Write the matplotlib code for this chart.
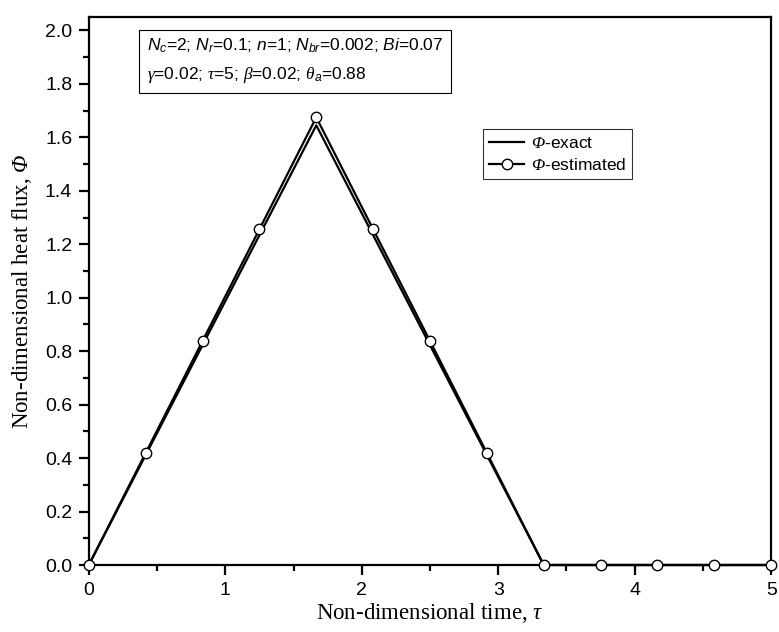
import matplotlib
matplotlib.use("Agg")
import matplotlib.pyplot as plt
from matplotlib.ticker import MultipleLocator, FormatStrFormatter

plt.rcParams['font.family'] = ['Liberation Sans', 'DejaVu Sans']
plt.rcParams['mathtext.fontset'] = 'custom'
plt.rcParams['mathtext.rm'] = 'Liberation Sans'
plt.rcParams['mathtext.it'] = 'Liberation Sans:italic'
plt.rcParams['mathtext.sf'] = 'Liberation Serif:italic'

# exact heat flux: triangular pulse
tau_exact = [0.0, 5/3, 10/3, 5.0]
phi_exact = [0.0, 1.645, 0.0, 0.0]

# estimated heat flux at the sampled times
tau_est = [0.0, 0.4167, 0.8333, 1.25, 1.6667, 2.0833, 2.5, 2.9167,
           3.3333, 3.75, 4.1667, 4.5833, 5.0]
phi_est = [0.0, 0.419, 0.838, 1.256, 1.675, 1.256, 0.838, 0.419,
           0.0, 0.0, 0.0, 0.0, 0.0]

fig = plt.figure(figsize=(7.79, 6.32), dpi=100)
ax = fig.add_axes([0.114, 0.106, 0.876, 0.867])

ax.plot(tau_exact, phi_exact, color='black', lw=1.6,
        label=r'$\mathsf{\Phi}$-exact', clip_on=False, zorder=3)
ax.plot(tau_est, phi_est, color='black', lw=1.6, marker='o', ms=7.5,
        mfc='white', mec='black', mew=1.0,
        label=r'$\mathsf{\Phi}$-estimated', clip_on=False, zorder=4)

ax.set_xlim(0, 5)
ax.set_ylim(0, 2.05)
ax.xaxis.set_major_locator(MultipleLocator(1))
ax.xaxis.set_minor_locator(MultipleLocator(0.5))
ax.yaxis.set_major_locator(MultipleLocator(0.2))
ax.yaxis.set_minor_locator(MultipleLocator(0.1))
ax.yaxis.set_major_formatter(FormatStrFormatter('%.1f'))

for s in ax.spines.values():
    s.set_linewidth(1.6)
ax.tick_params(which='major', direction='out', length=7, width=1.6,
               labelsize=14, pad=5)
ax.tick_params(which='minor', direction='out', length=4, width=1.6)

ax.set_xlabel(r'Non-dimensional time, $\mathsf{\tau}$', fontsize=16.5,
              family='Liberation Serif', labelpad=2)
ax.set_ylabel(r'Non-dimensional heat flux, $\mathsf{\Phi}$', fontsize=16.5,
              family='Liberation Serif', labelpad=8)

params = (r'$N_c$=2; $N_r$=0.1; $n$=1; $N_{br}$=0.002; $Bi$=0.07' + '\n'
          + r'$\mathsf{\gamma}$=0.02; $\mathsf{\tau}$=5; $\mathsf{\beta}$=0.02; '
          + r'$\mathsf{\theta}_a$=0.88')
ax.text(0.085, 0.965, params, transform=ax.transAxes, fontsize=12.5,
        va='top', ha='left', linespacing=1.75,
        bbox=dict(boxstyle='square,pad=0.45', fc='white', ec='black', lw=0.8))

leg = ax.legend(loc='upper left', bbox_to_anchor=(0.578, 0.795), fontsize=12.5,
                frameon=True, fancybox=False, edgecolor='black', handlelength=2.0,
                handletextpad=0.4, borderpad=0.35, labelspacing=0.35,
                borderaxespad=0)
leg.get_frame().set_linewidth(0.8)

fig.savefig('out.png', dpi=100)
